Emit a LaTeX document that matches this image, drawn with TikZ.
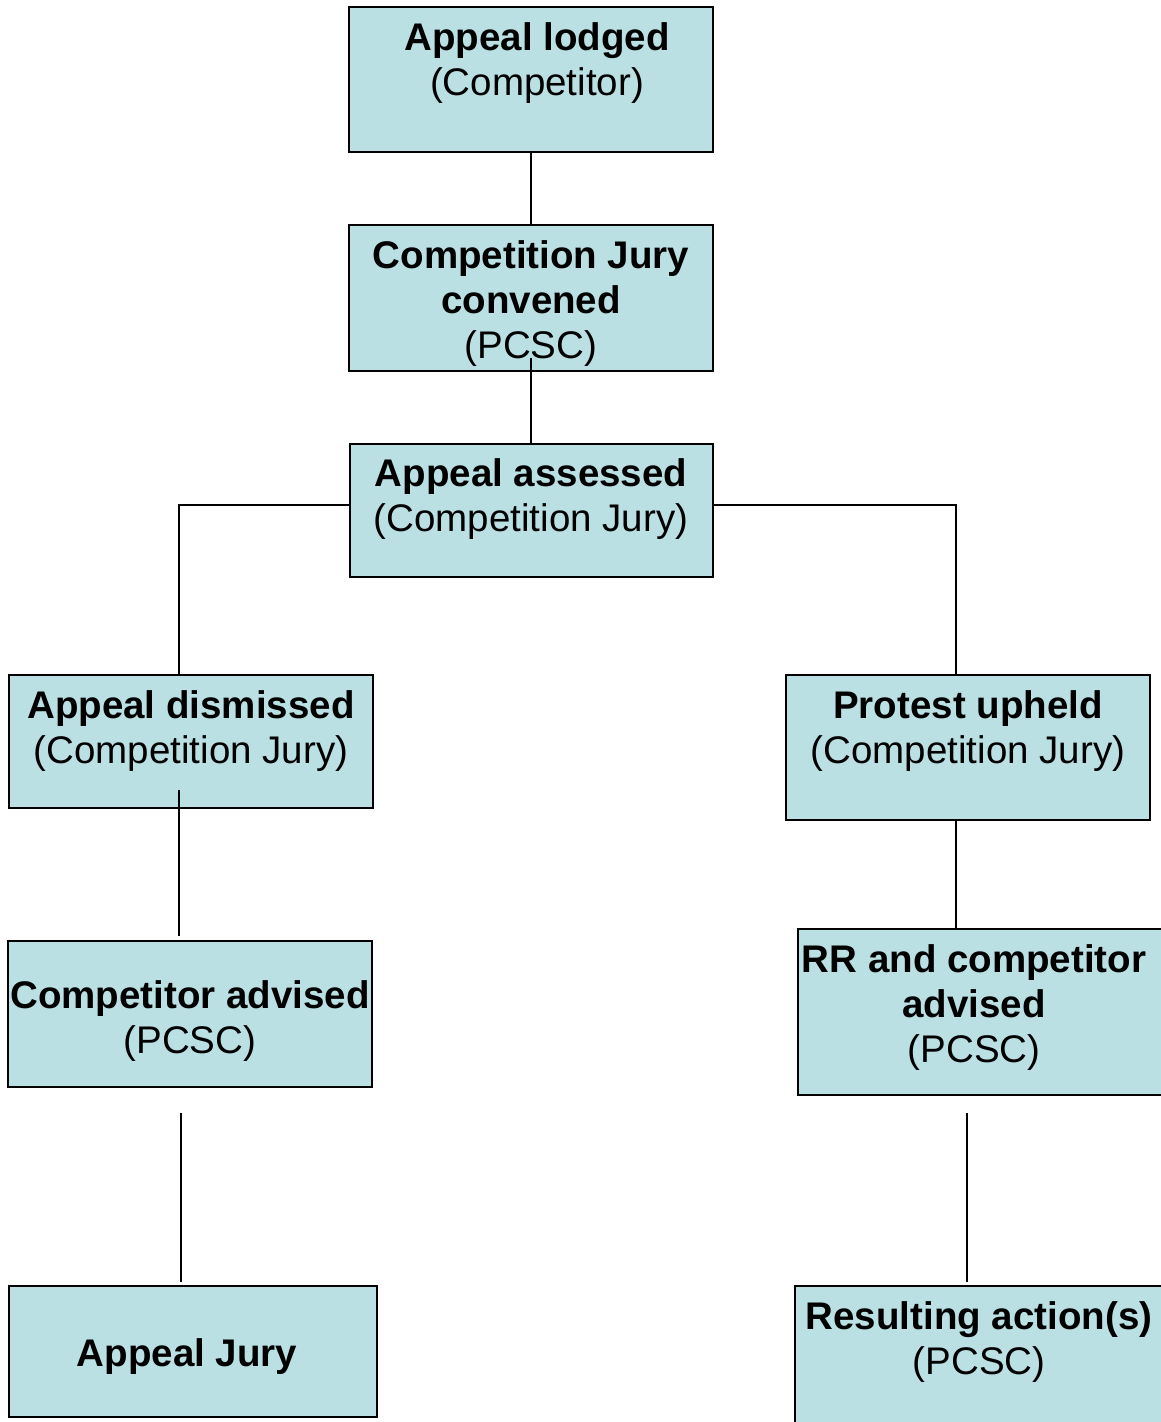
\documentclass[tikz,border=0pt]{standalone}
\usepackage{fontspec}
\setmainfont{Liberation Sans}
\definecolor{boxfill}{HTML}{BAE0E3}
\begin{document}
\begin{tikzpicture}[x=1pt,y=-1pt,
  box/.style={draw=black, line width=1.8pt, fill=boxfill, inner sep=0pt},
  txt/.style={align=center, inner sep=0pt, anchor=base, font=\fontsize{38.5}{45}\selectfont},
  conn/.style={draw=black, line width=1.4pt}]
\useasboundingbox (0,0) rectangle (1161,1422);
% boxes
\node[box, minimum width=364pt, minimum height=145pt] (b1) at (531,79.5) {};
\node[box, minimum width=364pt, minimum height=146pt] (b2) at (531,298) {};
\node[box, minimum width=363pt, minimum height=133pt] (b3) at (531.5,510.5) {};
\node[box, minimum width=364pt, minimum height=133pt] (b4) at (191,741.5) {};
\node[box, minimum width=364pt, minimum height=145pt] (b5) at (968,747.5) {};
\node[box, minimum width=364pt, minimum height=146pt] (b6) at (190,1014) {};
\node[box, minimum width=377pt, minimum height=166pt] (b7) at (986.5,1012) {};
\node[box, minimum width=368pt, minimum height=131pt] (b8) at (193,1351.5) {};
\node[box, minimum width=380pt, minimum height=154pt] (b9) at (985,1363) {};
% texts (base anchor = baseline of last line)
\node[txt] (t1) at (537,95) {\textbf{Appeal lodged}\\(Competitor)};
\node[txt] (t2) at (531,358) {\textbf{Competition Jury}\\\textbf{convened}\\(PCSC)};
\node[txt] (t3) at (531,531) {\textbf{Appeal assessed}\\(Competition Jury)};
\node[txt] (t4) at (191,763) {\textbf{Appeal dismissed}\\(Competition Jury)};
\node[txt] (t5) at (968,763) {\textbf{Protest upheld}\\(Competition Jury)};
\node[txt] (t6) at (190,1053) {\textbf{Competitor advised}\\(PCSC)};
\node[txt] (t7) at (974,1062) {\textbf{RR and competitor}\\\textbf{advised}\\(PCSC)};
\node[txt] (t8) at (187,1366) {\textbf{Appeal Jury}};
\node[txt] (t9) at (979,1374) {\textbf{Resulting action(s)}\\(PCSC)};
% connector ends
\coordinate (c2) at (531,358);
\coordinate (l3) at (350,505);
\coordinate (l4) at (179,675);
\coordinate (r3) at (713,505);
\coordinate (r5) at (956,675);
\coordinate (c4) at (179,790);
\coordinate (c6) at (179,936);
\coordinate (c5) at (956,820);
\coordinate (c7) at (956,929);
\coordinate (d6) at (181,1113);
\coordinate (d8) at (181,1282);
\coordinate (d7) at (967,1113);
\coordinate (d9) at (967,1282);
% connectors
\draw[conn] (b1.south) -- (b2.north);
\draw[conn] (c2) -- (c2 |- b3.north);
\draw[conn] (l3) -| (l4);
\draw[conn] (r3) -| (r5);
\draw[conn] (c4) -- (c6);
\draw[conn] (c5) -- (c7);
\draw[conn] (d6) -- (d8);
\draw[conn] (d7) -- (d9);
\end{tikzpicture}
\end{document}
